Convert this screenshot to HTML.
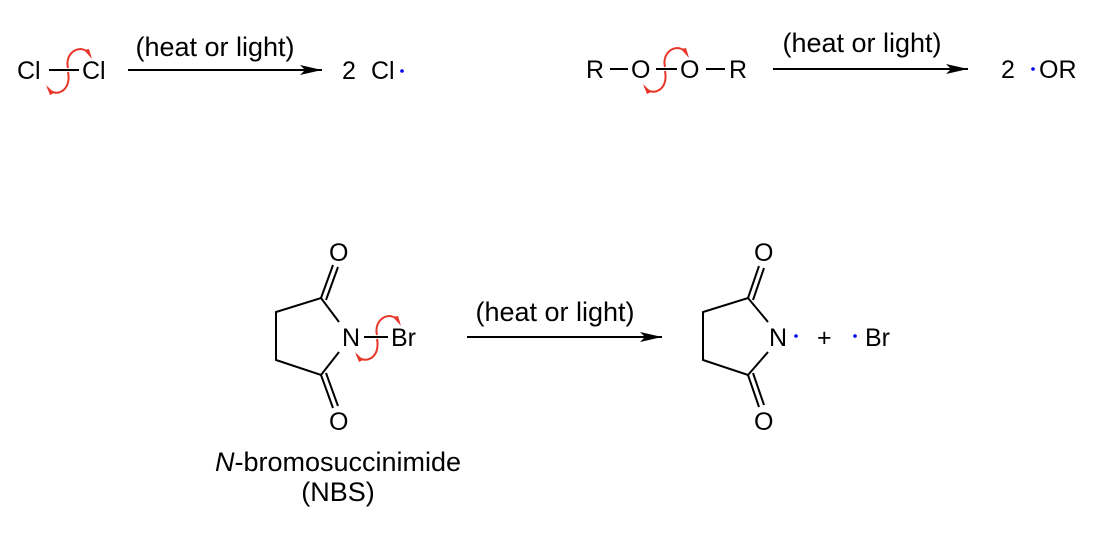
<!DOCTYPE html>
<html><head><style>
html,body{margin:0;padding:0;background:#fff;}
svg text{font-family:"Liberation Sans",Arial,sans-serif;font-size:25px;fill:#000;}
svg text.big{font-size:27px;}
</style></head><body>
<svg width="1112" height="528" viewBox="0 0 1112 528" xmlns="http://www.w3.org/2000/svg">
<defs>
<marker id="ah" markerWidth="22" markerHeight="10" refX="22" refY="5" orient="auto" markerUnits="userSpaceOnUse">
<path d="M0,0 L22,5 L0,10 L5,5 Z" fill="#000"/>
</marker>
</defs>
<g stroke="#000" stroke-width="2" fill="none">
<line x1="49" y1="70" x2="79" y2="70"/>
<line x1="128" y1="70" x2="322" y2="70" marker-end="url(#ah)"/>
<line x1="610" y1="69" x2="628" y2="69"/>
<line x1="656" y1="69" x2="677" y2="69"/>
<line x1="706" y1="69" x2="725" y2="69"/>
<line x1="773" y1="69" x2="968" y2="69" marker-end="url(#ah)"/>
<polyline points="339,322 321,298 276,312 276,360 321,375 339,352"/>
<line x1="321" y1="298" x2="333" y2="265"/>
<line x1="326" y1="300" x2="338" y2="267"/>
<line x1="321" y1="375" x2="333" y2="408"/>
<line x1="326" y1="373" x2="338" y2="406"/>
<line x1="364" y1="337" x2="388" y2="337"/>
<line x1="467" y1="337" x2="662" y2="337" marker-end="url(#ah)"/>
<polyline points="768,322 748,298 703,312 703,360 748,375 768,352"/>
<line x1="748" y1="298" x2="759" y2="266"/>
<line x1="753" y1="300" x2="764" y2="268"/>
<line x1="748" y1="375" x2="759" y2="407"/>
<line x1="753" y1="373" x2="764" y2="405"/>
</g>
<g stroke="#e8372a" stroke-width="2" fill="none">
<path d="M68,68 C64,52 82,42 90,55"/>
<path d="M68,72 C72,92 54,98 48,88"/>
<path d="M665,67 C661,51 679,41 687,54"/>
<path d="M665,71 C669,91 651,97 645,87"/>
<path d="M377,335 C373,319 391,309 399,322"/>
<path d="M377,339 C381,359 363,365 357,355"/>
</g>
<g fill="#e8372a">
<path d="M92,59 L84,50 L89,49 Z"/>
<path d="M46,85 L54,93 L50,95 Z"/>
<path d="M689,58 L681,49 L686,48 Z"/>
<path d="M643,84 L651,92 L647,94 Z"/>
<path d="M401,326 L393,317 L398,316 Z"/>
<path d="M355,352 L363,360 L359,362 Z"/>
</g>
<g fill="#0000ee">
<circle cx="402" cy="71" r="1.8"/>
<circle cx="1033" cy="69" r="1.8"/>
<circle cx="796" cy="336" r="1.8"/>
<circle cx="855" cy="336" r="1.8"/>
</g>
<text x="17" y="79">Cl</text>
<text x="82" y="79">Cl</text>
<text class="big" x="215" y="56" text-anchor="middle">(heat or light)</text>
<text x="342" y="79">2</text>
<text x="371" y="79">Cl</text>
<text x="586" y="78">R</text>
<text x="631" y="78">O</text>
<text x="680" y="78">O</text>
<text x="729" y="78">R</text>
<text class="big" x="862" y="52" text-anchor="middle">(heat or light)</text>
<text x="1001" y="78">2</text>
<text x="1039" y="78">OR</text>
<text x="329" y="261">O</text>
<text x="329" y="430">O</text>
<text x="342" y="346">N</text>
<text x="391" y="346">Br</text>
<text class="big" x="555" y="321" text-anchor="middle">(heat or light)</text>
<text x="754" y="261">O</text>
<text x="754" y="430">O</text>
<text x="769" y="346">N</text>
<text x="817" y="346">+</text>
<text x="865" y="346">Br</text>
<text class="big" x="338" y="471" text-anchor="middle"><tspan font-style="italic">N</tspan>-bromosuccinimide</text>
<text class="big" x="338" y="501" text-anchor="middle">(NBS)</text>
</svg>
</body></html>
